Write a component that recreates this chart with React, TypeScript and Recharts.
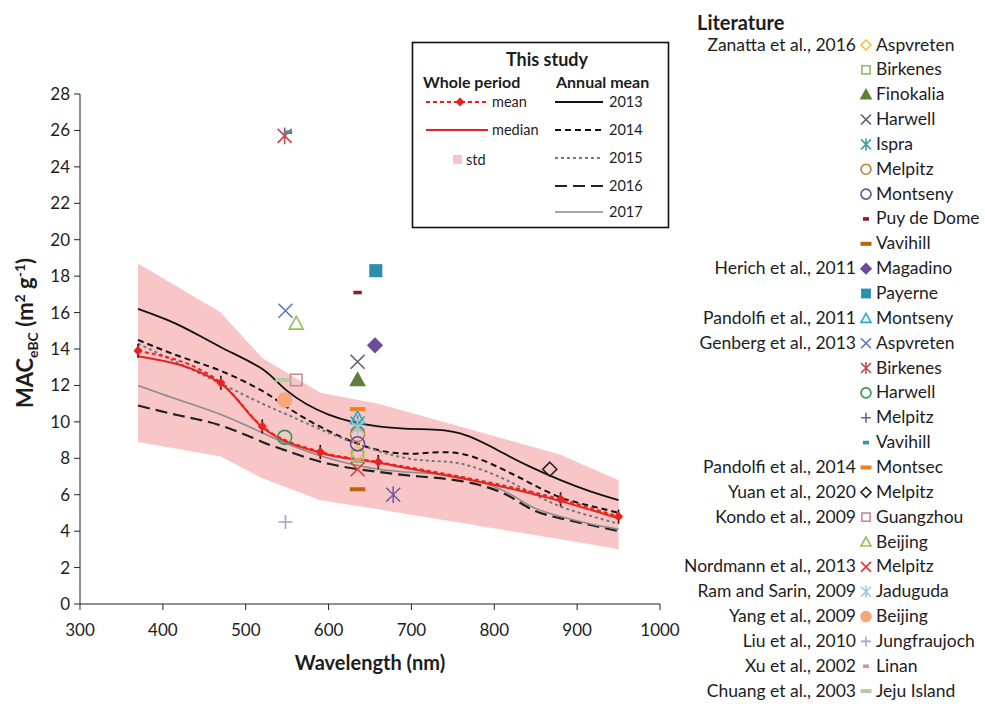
import React from "react";
import { Area, ComposedChart, Line, Scatter, XAxis, YAxis } from "recharts";

// axes
const xTicks = [300, 400, 500, 600, 700, 800, 900, 1000];
const yTicks = [0, 2, 4, 6, 8, 10, 12, 14, 16, 18, 20, 22, 24, 26, 28];

// this study, whole period (aethalometer wavelengths)
const aethWl = [370, 470, 520, 590, 660, 880, 950];
const wholeMean = [13.9, 12.15, 9.75, 8.35, 7.8, 5.75, 4.8];
const wholeMedian = [13.6, 12.1, 9.7, 8.3, 7.75, 5.65, 4.7];
const stdLow = [8.9, 8.1, 6.9, 5.7, 5.2, 3.55, 3.0];
const stdHigh = [18.7, 16.0, 13.5, 11.6, 11.0, 8.2, 6.8];

// this study, annual means
const annualWl = [370, 420, 470, 520, 550, 600, 660, 710, 760, 810, 845, 880, 915, 950];
const mac2013 = [16.2, 15.3, 14.1, 12.9, 11.7, 10.4, 9.75, 9.6, 9.35, 8.3, 7.5, 6.8, 6.2, 5.7];
const mac2014 = [14.5, 13.6, 12.8, 11.7, 10.8, 9.5, 8.45, 8.27, 8.25, 7.4, 6.6, 5.85, 5.4, 5.0];
const mac2015 = [14.3, 13.2, 12.1, 11.0, 10.4, 9.4, 8.4, 7.9, 7.7, 6.9, 6.1, 5.35, 4.85, 4.4];
const mac2016 = [10.9, 10.35, 9.8, 8.9, 8.4, 7.7, 7.25, 7.0, 6.75, 6.1, 5.2, 4.7, 4.35, 4.0];
const mac2017 = [12.0, 11.2, 10.4, 9.4, 8.8, 8.0, 7.4, 7.2, 6.95, 6.25, 5.35, 4.8, 4.4, 4.1];

// literature
const litAuthors = [
  "Zanatta et al., 2016", "", "", "", "", "", "", "", "",
  "Herich et al., 2011", "",
  "Pandolfi et al., 2011",
  "Genberg et al., 2013", "", "", "", "",
  "Pandolfi et al., 2014",
  "Yuan et al., 2020",
  "Kondo et al., 2009", "",
  "Nordmann et al., 2013",
  "Ram and Sarin, 2009",
  "Yang et al., 2009",
  "Liu et al., 2010",
  "Xu et al., 2002",
  "Chuang et al., 2003",
];
const litSites = [
  "Aspvreten", "Birkenes", "Finokalia", "Harwell", "Ispra", "Melpitz", "Montseny", "Puy de Dome", "Vavihill",
  "Magadino", "Payerne", "Montseny", "Aspvreten", "Birkenes", "Harwell", "Melpitz", "Vavihill", "Montsec",
  "Melpitz", "Guangzhou", "Beijing", "Melpitz", "Jaduguda", "Beijing", "Jungfraujoch", "Linan", "Jeju Island",
];
const litWl = [635, 635, 635, 635, 635, 635, 635, 635, 635, 656, 657, 635, 548, 547, 547, 678, 551, 635, 867, 561, 561, 635, 635, 547, 548, 635, 545];
const litMac = [8.3, 8.1, 12.3, 13.3, 9.9, 9.3, 8.8, 17.1, 6.3, 14.2, 18.3, 10.2, 16.1, 25.7, 9.15, 6.0, 25.9, 10.7, 7.4, 12.3, 15.4, 7.4, 9.7, 11.2, 4.5, 7.9, 12.3];

const litShapes = [
  "diamondO", "squareO", "triF", "x", "star", "circleO", "circleO", "dashS", "dashL",
  "diamondF", "squareF", "triO", "x", "star", "circleO", "star", "dashS", "dashL",
  "diamondO", "squareO", "triO", "x", "star", "circleF", "plus", "dashS", "dashL",
];
const legendShapeOverride: Record<number, string> = { 15: "plus" };
const litColors = [
  "#f0c44a", "#8cbf5f", "#5f7f3b", "#5e5a7a", "#3aa0a0", "#c07a34", "#6b4a9f", "#8c1c2c", "#c0620c",
  "#6c4c9c", "#2b8fae", "#2aa6d9", "#5b77b8", "#c8464e", "#2f9a4f", "#7a5aa3", "#3a8fa5", "#f0811c",
  "#222222", "#c48a96", "#8fc35a", "#e23a32", "#9ccbd8", "#f5a97a", "#a9a2c4", "#d98fa2", "#b5c9a5",
];

const years = ["2013", "2014", "2015", "2016", "2017"];
const yearStyle: Record<string, { stroke: string; dash?: string; w: number }> = {
  "2013": { stroke: "#111", w: 1.8 },
  "2014": { stroke: "#111", dash: "6 4", w: 2 },
  "2015": { stroke: "#777", dash: "3 3", w: 2 },
  "2016": { stroke: "#222", dash: "12 6", w: 2.2 },
  "2017": { stroke: "#8a8a8a", w: 1.5 },
};

const RED = "#e5231f";
const PINK = "#f8c6c6";
const FONT = "Lato, 'Open Sans', sans-serif";

const bandRows = aethWl.map((wl, i) => ({ wl, band: [stdLow[i], stdHigh[i]] }));
const wholeRows = aethWl.map((wl, i) => ({ wl, mean: wholeMean[i], median: wholeMedian[i] }));
const annualRows = annualWl.map((wl, i) => ({
  wl,
  "2013": mac2013[i],
  "2014": mac2014[i],
  "2015": mac2015[i],
  "2016": mac2016[i],
  "2017": mac2017[i],
}));

function Mark({ cx, cy, kind, color, s = 6 }: { cx: number; cy: number; kind: string; color: string; s?: number }) {
  const sw = 1.6;
  switch (kind) {
    case "diamondO":
    case "diamondF":
      return <path d={`M${cx},${cy - s} L${cx + s},${cy} L${cx},${cy + s} L${cx - s},${cy} Z`} fill={kind === "diamondF" ? color : "none"} stroke={color} strokeWidth={sw} />;
    case "squareO":
    case "squareF": {
      const q = s * 0.82;
      return <rect x={cx - q} y={cy - q} width={2 * q} height={2 * q} fill={kind === "squareF" ? color : "none"} stroke={color} strokeWidth={sw} />;
    }
    case "triO":
    case "triF":
      return <path d={`M${cx},${cy - s} L${cx + s},${cy + s * 0.8} L${cx - s},${cy + s * 0.8} Z`} fill={kind === "triF" ? color : "none"} stroke={color} strokeWidth={sw} />;
    case "circleO":
    case "circleF":
      return <circle cx={cx} cy={cy} r={s} fill={kind === "circleF" ? color : "none"} stroke={color} strokeWidth={sw} />;
    case "x":
      return <path d={`M${cx - s},${cy - s} L${cx + s},${cy + s} M${cx - s},${cy + s} L${cx + s},${cy - s}`} stroke={color} strokeWidth={sw} />;
    case "plus":
      return <path d={`M${cx - s},${cy} L${cx + s},${cy} M${cx},${cy - s} L${cx},${cy + s}`} stroke={color} strokeWidth={sw} />;
    case "star":
      return <path d={`M${cx - s},${cy - s} L${cx + s},${cy + s} M${cx - s},${cy + s} L${cx + s},${cy - s} M${cx},${cy - s * 1.2} L${cx},${cy + s * 1.2}`} stroke={color} strokeWidth={sw} />;
    case "dashL":
      return <rect x={cx - s * 1.1} y={cy - 2} width={s * 2.2} height={4} fill={color} />;
    case "dashS":
      return <rect x={cx - s * 0.6} y={cy - 1.8} width={s * 1.2} height={3.6} fill={color} />;
    default:
      return null;
  }
}

function MeanDot(props: any) {
  const { cx, cy } = props;
  if (cx == null || cy == null) return <g key={props.index} />;
  return (
    <g key={props.index}>
      <line x1={cx} y1={cy - 7} x2={cx} y2={cy + 7} stroke="#111" strokeWidth={1.6} />
      <path d={`M${cx},${cy - 5} L${cx + 4.5},${cy} L${cx},${cy + 5} L${cx - 4.5},${cy} Z`} fill={RED} />
    </g>
  );
}

function Overlay() {
  const rowY = (i: number) => 45 + i * 24.85;
  const boxRows = [102, 130, 158, 186, 212];
  return (
    <svg width={985} height={708} style={{ position: "absolute", left: 0, top: 0, pointerEvents: "none" }} fontFamily={FONT} fill="#1d1d1d">
      {/* axis titles */}
      <text x={370} y={670} textAnchor="middle" fontWeight="bold" fontSize={20}>Wavelength (nm)</text>
      <text transform="translate(33,333) rotate(-90)" textAnchor="middle" fontWeight="bold" fontSize={22}>
        MAC<tspan fontSize={14} dy={5}>eBC</tspan>
        <tspan dy={-5}> (m</tspan>
        <tspan fontSize={14} dy={-8}>2</tspan>
        <tspan dy={8}> g</tspan>
        <tspan fontSize={14} dy={-8}>-1</tspan>
        <tspan dy={8}>)</tspan>
      </text>

      {/* this study box */}
      <rect x={412.5} y={42.5} width={256} height={185} fill="#fff" stroke="#111" strokeWidth={1.6} />
      <text x={547} y={66} textAnchor="middle" fontWeight="bold" fontSize={18}>This study</text>
      <text x={423} y={88} fontWeight="bold" fontSize={16}>Whole period</text>
      <text x={556} y={88} fontWeight="bold" fontSize={16}>Annual mean</text>
      <line x1={426} y1={102} x2={488} y2={102} stroke={RED} strokeWidth={2} strokeDasharray="4 3" />
      <path d="M460,97.5 L464.5,102 L460,106.5 L455.5,102 Z" fill={RED} />
      <text x={492} y={107} fontSize={14.5}>mean</text>
      <line x1={426} y1={130} x2={488} y2={130} stroke={RED} strokeWidth={2} />
      <text x={492} y={135} fontSize={14.5}>median</text>
      <rect x={453} y={155} width={9} height={9} fill={PINK} />
      <text x={466} y={165} fontSize={14.5}>std</text>
      {years.map((yr, i) => (
        <g key={yr}>
          <line x1={555} y1={boxRows[i]} x2={603} y2={boxRows[i]} stroke={yearStyle[yr].stroke} strokeWidth={yearStyle[yr].w} strokeDasharray={yearStyle[yr].dash} />
          <text x={609} y={boxRows[i] + 5} fontSize={14.5}>{yr}</text>
        </g>
      ))}

      {/* literature legend */}
      <text x={697} y={30} fontWeight="bold" fontSize={20}>Literature</text>
      {litSites.map((site, i) => (
        <g key={i}>
          {litAuthors[i] ? (
            <text x={856} y={rowY(i) + 5.5} textAnchor="end" fontSize={17.5}>{litAuthors[i]}</text>
          ) : null}
          <Mark cx={866} cy={rowY(i)} kind={legendShapeOverride[i] ?? litShapes[i]} color={litColors[i]} s={5} />
          <text x={876} y={rowY(i) + 5.5} fontSize={17.5}>{site}</text>
        </g>
      ))}
    </svg>
  );
}

export default function App() {
  return (
    <div style={{ position: "absolute", left: 0, top: 0, width: 985, height: 708, background: "#fff" }}>
      <ComposedChart width={985} height={708} margin={{ top: 94, right: 325, bottom: 64, left: 0 }}>
        <XAxis
          type="number"
          dataKey="wl"
          domain={[300, 1000]}
          ticks={xTicks}
          allowDataOverflow
          stroke="#222"
          tickSize={6}
          tickMargin={14}
          height={40}
          tick={{ fill: "#1d1d1d", fontSize: 17, fontFamily: FONT }}
        />
        <YAxis
          type="number"
          domain={[0, 28]}
          ticks={yTicks}
          allowDataOverflow
          width={80}
          stroke="#222"
          tickSize={6}
          tickMargin={4}
          tick={{ fill: "#1d1d1d", fontSize: 17, fontFamily: FONT }}
        />
        <Area data={bandRows} dataKey="band" type="linear" fill={PINK} fillOpacity={1} stroke="none" isAnimationActive={false} />
        {years.map((yr) => (
          <Line
            key={yr}
            data={annualRows}
            dataKey={yr}
            type="natural"
            stroke={yearStyle[yr].stroke}
            strokeWidth={yearStyle[yr].w}
            strokeDasharray={yearStyle[yr].dash}
            dot={false}
            activeDot={false}
            isAnimationActive={false}
          />
        ))}
        <Line data={wholeRows} dataKey="median" type="monotone" stroke={RED} strokeWidth={2} dot={false} activeDot={false} isAnimationActive={false} />
        <Line data={wholeRows} dataKey="mean" type="monotone" stroke={RED} strokeWidth={2} strokeDasharray="4 3" dot={MeanDot} activeDot={false} isAnimationActive={false} />
        {litSites.map((site, i) => (
          <Scatter
            key={`lit-${i}`}
            name={`${site}-${i}`}
            data={[{ wl: litWl[i], mac: litMac[i] }]}
            dataKey="mac"
            isAnimationActive={false}
            shape={(p: any) => <Mark cx={p.cx} cy={p.cy} kind={litShapes[i]} color={litColors[i]} s={7} />}
          />
        ))}
      </ComposedChart>
      <Overlay />
    </div>
  );
}
